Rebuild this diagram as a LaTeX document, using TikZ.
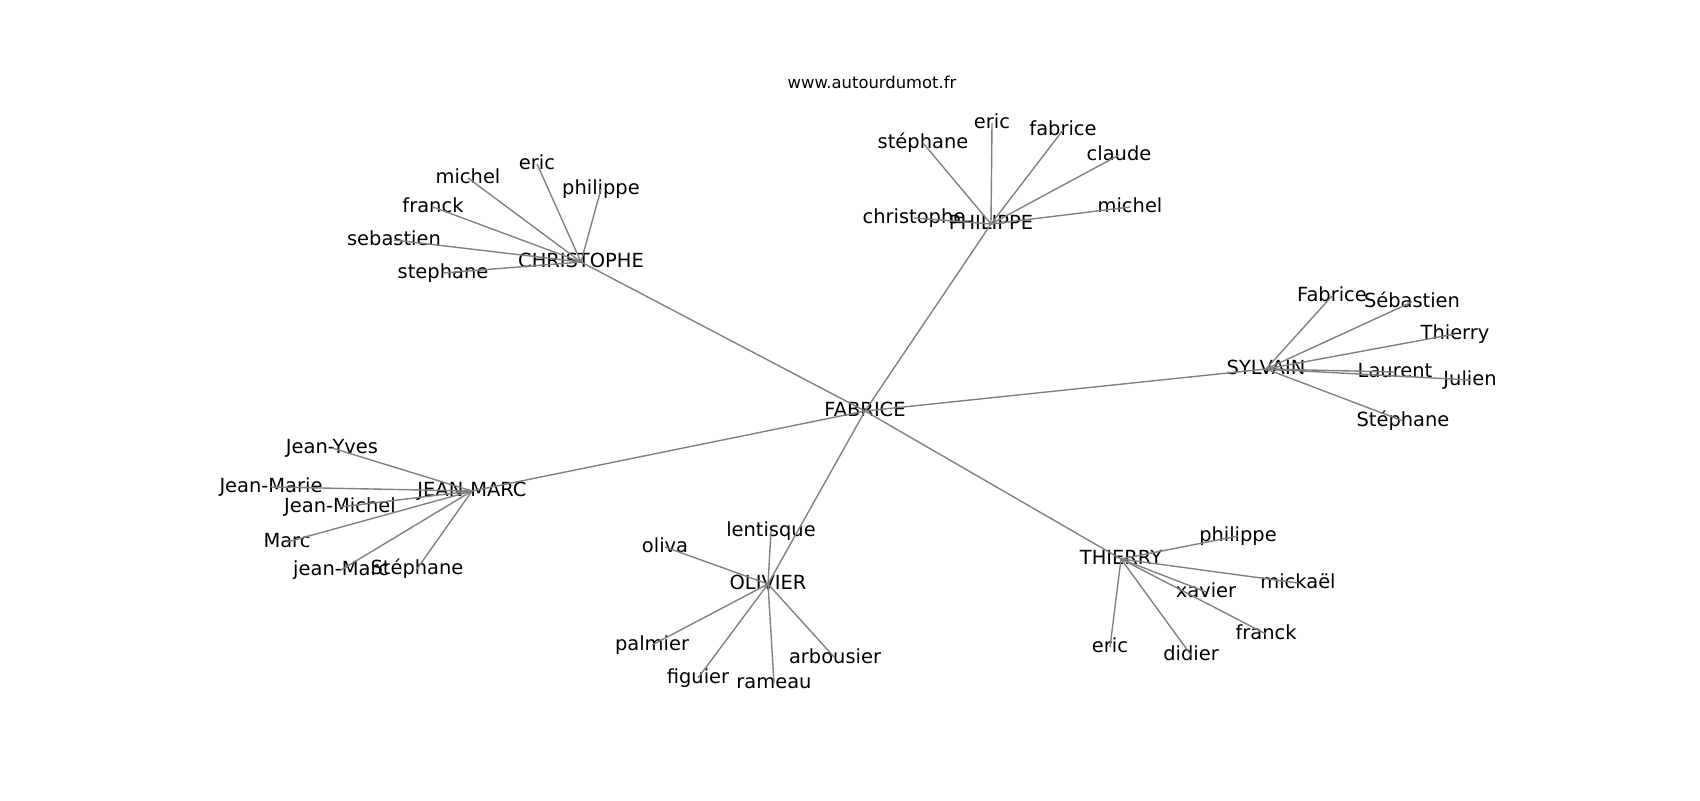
\documentclass[tikz,border=0pt]{standalone}
\usepackage{fontspec}
\setmainfont{DejaVu Sans}
\tikzset{
  person/.style={font=\fontsize{14}{16}\selectfont, inner sep=0pt, text height=1em, text depth=0.2em},
  link/.style={draw=black!50, line width=1pt}
}
\begin{document}
\begin{tikzpicture}[x=0.72pt, y=-0.72pt]
    \useasboundingbox (0,0) rectangle (1700,800);
    \node[font=\fontsize{11.8}{14}\selectfont, inner sep=0pt, text height=0.92em, text depth=0.2em] (title) at (872,83) {www.autourdumot.fr};
    \node[person] (fabrice) at (865,411) {FABRICE};
    \node[person] (christophe) at (581,262) {CHRISTOPHE};
    \node[person] (cmichel) at (468,178) {michel};
    \node[person] (ceric) at (537,164) {eric};
    \node[person] (cphilippe) at (601,189) {philippe};
    \node[person] (cfranck) at (433,207) {franck};
    \node[person] (csebastien) at (394,240) {sebastien};
    \node[person] (cstephane) at (443,273) {stephane};
    \node[person] (philippe) at (991,224) {PHILIPPE};
    \node[person] (pchristophe) at (914,218) {christophe};
    \node[person] (pstephane) at (923,143) {stéphane};
    \node[person] (peric) at (992,123) {eric};
    \node[person] (pfabrice) at (1063,130) {fabrice};
    \node[person] (pclaude) at (1119,155) {claude};
    \node[person] (pmichel) at (1130,207) {michel};
    \node[person] (sylvain) at (1266,369) {SYLVAIN};
    \node[person] (sfabrice) at (1332,296) {Fabrice};
    \node[person] (ssebastien) at (1412,302) {Sébastien};
    \node[person] (sthierry) at (1455,334) {Thierry};
    \node[person] (slaurent) at (1395,372) {Laurent};
    \node[person] (sjulien) at (1470,380) {Julien};
    \node[person] (sstephane) at (1403,421) {Stéphane};
    \node[person] (jeanmarc) at (472,491) {JEAN-MARC};
    \node[person] (jyves) at (332,448) {Jean-Yves};
    \node[person] (jmarie) at (271,487) {Jean-Marie};
    \node[person] (jmichel) at (340,507) {Jean-Michel};
    \node[person] (jmarc) at (287,542) {Marc};
    \node[person] (jjeanmarc) at (341,570) {jean-Marc};
    \node[person] (jstephane) at (417,569) {Stéphane};
    \node[person] (olivier) at (768,584) {OLIVIER};
    \node[person] (olentisque) at (771,531) {lentisque};
    \node[person] (ooliva) at (665,547) {oliva};
    \node[person] (opalmier) at (652,645) {palmier};
    \node[person] (ofiguier) at (698,678) {figuier};
    \node[person] (orameau) at (774,683) {rameau};
    \node[person] (oarbousier) at (835,658) {arbousier};
    \node[person] (thierry) at (1121,559) {THIERRY};
    \node[person] (tphilippe) at (1238,536) {philippe};
    \node[person] (tmickael) at (1298,583) {mickaël};
    \node[person] (txavier) at (1206,592) {xavier};
    \node[person] (tfranck) at (1266,634) {franck};
    \node[person] (teric) at (1110,647) {eric};
    \node[person] (tdidier) at (1191,655) {didier};
    \foreach \n in {christophe, philippe, sylvain, jeanmarc, olivier, thierry}
      \draw[link] (fabrice.center) -- (\n.center);
    \foreach \n in {cmichel, ceric, cphilippe, cfranck, csebastien, cstephane}
      \draw[link] (christophe.center) -- (\n.center);
    \foreach \n in {pchristophe, pstephane, peric, pfabrice, pclaude, pmichel}
      \draw[link] (philippe.center) -- (\n.center);
    \foreach \n in {sfabrice, ssebastien, sthierry, slaurent, sjulien, sstephane}
      \draw[link] (sylvain.center) -- (\n.center);
    \foreach \n in {jyves, jmarie, jmichel, jmarc, jjeanmarc, jstephane}
      \draw[link] (jeanmarc.center) -- (\n.center);
    \foreach \n in {olentisque, ooliva, opalmier, ofiguier, orameau, oarbousier}
      \draw[link] (olivier.center) -- (\n.center);
    \foreach \n in {tphilippe, tmickael, txavier, tfranck, teric, tdidier}
      \draw[link] (thierry.center) -- (\n.center);
\end{tikzpicture}
\end{document}
